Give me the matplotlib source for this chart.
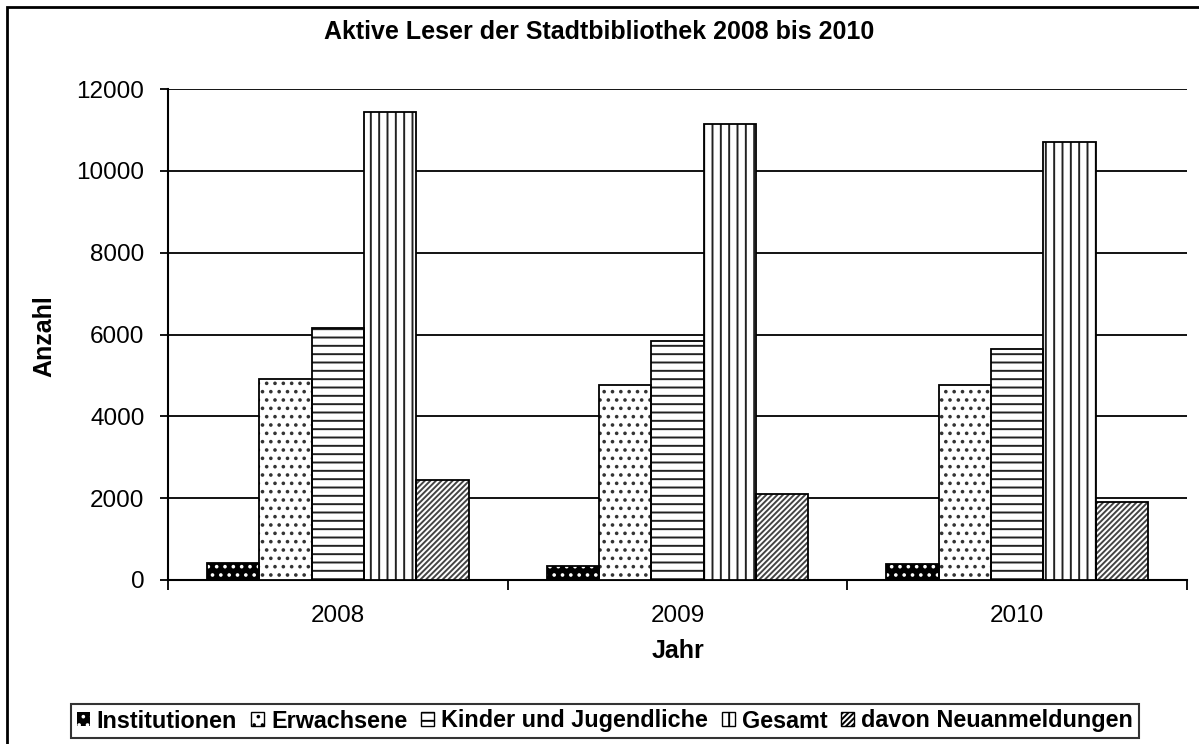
import matplotlib
matplotlib.use("Agg")
import matplotlib.pyplot as plt
import numpy as np
from matplotlib.patches import Rectangle, Patch

plt.rcParams['font.family'] = ['Liberation Sans', 'DejaVu Sans']
plt.rcParams['hatch.linewidth'] = 1.4

years = ["2008", "2009", "2010"]
series_names = ["Institutionen", "Erwachsene", "Kinder und Jugendliche", "Gesamt", "davon Neuanmeldungen"]
institutionen = [420, 340, 390]
erwachsene = [4910, 4760, 4760]
kinder = [6150, 5850, 5640]
gesamt = [11440, 11140, 10710]
neuanmeldungen = [2440, 2090, 1900]
yticks = [0, 2000, 4000, 6000, 8000, 10000, 12000]

series = [institutionen, erwachsene, kinder, gesamt, neuanmeldungen]
styles = [
    dict(face='black', hatch='..', hcol='white'),
    dict(face='white', hatch='..', hcol='#333333'),
    dict(face='white', hatch='--', hcol='#222222'),
    dict(face='white', hatch='||', hcol='#222222'),
    dict(face='white', hatch='//////', hcol='#444444'),
]

W, H = 1199, 744
fig = plt.figure(figsize=(W/100, H/100), dpi=100)
ax = fig.add_axes([168/W, 1-580/H, (1187-168)/W, (580-89)/H])

x = np.arange(len(years))
w = 0.154
n = len(series)
handles = []
for i, (vals, st) in enumerate(zip(series, styles)):
    pos = x + (i - (n-1)/2) * w
    ax.bar(pos, vals, w, color=st['face'], edgecolor=st['hcol'], hatch=st['hatch'], linewidth=0, zorder=3)
    ax.bar(pos, vals, w, fill=False, edgecolor='black', linewidth=1.3, zorder=4)
    if st['face'] == 'white':
        handles.append(Patch(facecolor='white', edgecolor='black', hatch=st['hatch'], linewidth=1))
    else:
        handles.append(Patch(facecolor='black', edgecolor='white', hatch=st['hatch'], linewidth=0))

ax.set_xlim(-0.5, len(years) - 0.5)
ax.set_ylim(0, 12000)
ax.set_yticks(yticks)
ax.set_yticklabels([str(t) for t in yticks], fontsize=17.5)
ax.yaxis.grid(True, color='black', linewidth=1.3, zorder=0)
ax.set_axisbelow(True)
ax.set_xticks(x)
ax.set_xticklabels(years, fontsize=17.5)
ax.tick_params(axis='x', length=0, pad=18)
ax.set_xticks(np.arange(-0.5, len(years), 1.0), minor=True)
ax.tick_params(axis='x', which='minor', length=7, width=1.3, direction='out')
ax.tick_params(axis='y', length=6, width=1.3, direction='out', pad=11)
for s in ['top', 'right']:
    ax.spines[s].set_visible(False)
for s in ['left', 'bottom']:
    ax.spines[s].set_linewidth(1.5)

fig.text(0.5, 1-32/H, "Aktive Leser der Stadtbibliothek 2008 bis 2010", ha='center', va='center',
         fontsize=18, fontweight='bold')
fig.text((168+1187)/2/W, 1-651/H, "Jahr", ha='center', va='center', fontsize=18, fontweight='bold')
fig.text(44/W, 1-336/H, "Anzahl", ha='center', va='center', rotation=90, fontsize=18, fontweight='bold')

leg = fig.legend(handles, series_names, loc='center', bbox_to_anchor=(605/W, 1-721/H), ncol=5,
                 frameon=True, fancybox=False, edgecolor='black', handlelength=0.55, handleheight=0.55,
                 handletextpad=0.3, columnspacing=0.6, borderpad=0.25, borderaxespad=0,
                 prop={'size': 16.8, 'weight': 'bold'})
leg.get_frame().set_linewidth(1.5)

fig.patches.append(Rectangle((7/W, -0.05), 1.1, 1.05 - 7/H, transform=fig.transFigure, fill=False,
                             edgecolor='black', linewidth=2))

fig.savefig("out.png", dpi=100)
